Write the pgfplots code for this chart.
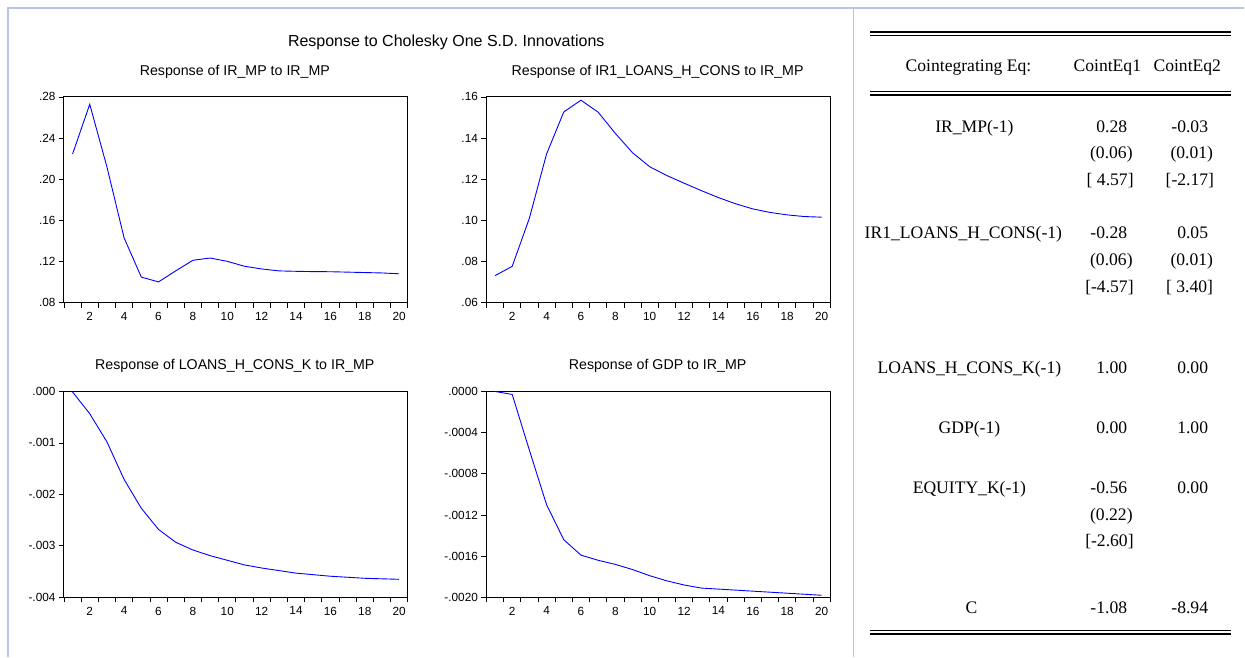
\documentclass[border=0pt]{standalone}
\usepackage{fontspec}
\setmainfont{Liberation Serif}
\newfontfamily\arial{Liberation Sans}
\usepackage{pgfplots}
\pgfplotsset{compat=1.18}

\definecolor{framecol}{RGB}{180,199,231}
\definecolor{irfblue}{RGB}{0,0,255}

\pgfplotsset{
  irf/.style={
    scale only axis,
    width=344pt, height=206pt,
    xmin=0.5, xmax=20.5,
    axis line style={black, line width=1pt},
    xtick={0.5,1.5,...,20.5},
    xticklabels={},
    extra x ticks={2,4,...,20},
    extra x tick labels={2,4,6,8,10,12,14,16,18,20},
    extra x tick style={major tick length=0pt, tick style={draw=none},
      xticklabel style={yshift=-6pt}},
    tick pos=left,
    tick align=outside,
    major tick length=5pt,
    tick style={black, line width=0.8pt},
    scaled y ticks=false,
    no markers,
    tick label style={font=\arial\fontsize{11.8}{12}\selectfont, text=black},
    every axis plot/.append style={irfblue, line width=0.9pt},
  }
}

\newcommand{\tfont}{\fontsize{17.6}{19}\selectfont}

\begin{document}
\begin{tikzpicture}
% page and frame
\fill[white] (0pt,0pt) rectangle (1245pt,657pt);
\draw[framecol, line width=1.5pt] (8pt,0pt) -- (8pt,649pt) -- (1245pt,649pt);
\draw[framecol, line width=1.5pt] (854pt,0pt) -- (854pt,649pt);

% titles
\node[font=\arial\fontsize{16}{18}\selectfont, anchor=base] at (446.5pt,610.3pt) {Response to Cholesky One S.D. Innovations};
\node[font=\arial\fontsize{14.2}{16}\selectfont, anchor=base] at (235pt,581pt) {Response of IR\_MP to IR\_MP};
\node[font=\arial\fontsize{14.2}{16}\selectfont, anchor=base] at (658pt,581pt) {Response of IR1\_LOANS\_H\_CONS to IR\_MP};
\node[font=\arial\fontsize{14.2}{16}\selectfont, anchor=base] at (235pt,287.7pt) {Response of LOANS\_H\_CONS\_K to IR\_MP};
\node[font=\arial\fontsize{14.2}{16}\selectfont, anchor=base] at (658pt,287.7pt) {Response of GDP to IR\_MP};

% IR_MP to IR_MP
\begin{axis}[irf, at={(64pt,354pt)}, anchor=south west,
  ymin=0.08, ymax=0.28,
  ytick={0.08,0.12,0.16,0.20,0.24,0.28},
  yticklabels={.08,.12,.16,.20,.24,.28}]
\addplot coordinates {
 (1,0.2245) (2,0.2729) (3,0.212) (4,0.143) (5,0.105) (6,0.1003) (7,0.111)
 (8,0.1213) (9,0.1235) (10,0.1203) (11,0.1155) (12,0.1129) (13,0.111)
 (14,0.1106) (15,0.1103) (16,0.1102) (17,0.1098) (18,0.1094) (19,0.1090) (20,0.1082)
};
\end{axis}

% IR1_LOANS_H_CONS to IR_MP
\begin{axis}[irf, at={(486.7pt,354pt)}, anchor=south west,
  ymin=0.06, ymax=0.16,
  ytick={0.06,0.08,0.10,0.12,0.14,0.16},
  yticklabels={.06,.08,.10,.12,.14,.16}]
\addplot coordinates {
 (1,0.0732) (2,0.0777) (3,0.1011) (4,0.1323) (5,0.1527) (6,0.1584) (7,0.1526)
 (8,0.1423) (9,0.1329) (10,0.1261) (11,0.1218) (12,0.1181) (13,0.1145)
 (14,0.1111) (15,0.1081) (16,0.1056) (17,0.1039) (18,0.1027) (19,0.1019) (20,0.1016)
};
\end{axis}

% LOANS_H_CONS_K to IR_MP
\begin{axis}[irf, at={(64pt,59.3pt)}, anchor=south west,
  ymin=-0.004, ymax=0,
  ytick={-0.004,-0.003,-0.002,-0.001,0},
  yticklabels={-.004,-.003,-.002,-.001,.000}]
\addplot coordinates {
 (1,-0.00001) (2,-0.000432) (3,-0.00098) (4,-0.00171) (5,-0.00227) (6,-0.00268)
 (7,-0.00293) (8,-0.00308) (9,-0.00319) (10,-0.00328) (11,-0.00337) (12,-0.00343)
 (13,-0.00348) (14,-0.00353) (15,-0.00356) (16,-0.00359) (17,-0.00361)
 (18,-0.00363) (19,-0.00364) (20,-0.00365)
};
\end{axis}

% GDP to IR_MP
\begin{axis}[irf, at={(486.7pt,59.3pt)}, anchor=south west,
  ymin=-0.002, ymax=0,
  ytick={-0.002,-0.0016,-0.0012,-0.0008,-0.0004,0},
  yticklabels={-.0020,-.0016,-.0012,-.0008,-.0004,.0000}]
\addplot coordinates {
 (1,0) (2,-0.000029) (3,-0.00057) (4,-0.0011) (5,-0.00144) (6,-0.00159)
 (7,-0.00164) (8,-0.00168) (9,-0.00173) (10,-0.00179) (11,-0.00184) (12,-0.00188)
 (13,-0.00191) (14,-0.00192) (15,-0.00193) (16,-0.00194) (17,-0.00195)
 (18,-0.00196) (19,-0.00197) (20,-0.00198)
};
\end{axis}

% cointegrating table
\foreach \yy in {625,621.5,565.5,562,26,22.7}
  \draw[black, line width=1.7pt] (871pt,\yy pt) -- (1232pt,\yy pt);
\begin{scope}[every node/.style={font=\tfont, inner sep=0pt}]
\node[anchor=base] at (969pt,585pt) {Cointegrating Eq:};
\node[anchor=base] at (1108pt,585pt) {CointEq1};
\node[anchor=base] at (1188pt,585pt) {CointEq2};

\node[anchor=base] at (975pt,524.8pt) {IR\_MP(-1)};
\node[anchor=base east] at (1128pt,524.8pt) {0.28};
\node[anchor=base east] at (1209pt,524.8pt) {-0.03};
\node[anchor=base east] at (1133.5pt,498.2pt) {(0.06)};
\node[anchor=base east] at (1214pt,498.2pt) {(0.01)};
\node[anchor=base east] at (1134.5pt,471.5pt) {[ 4.57]};
\node[anchor=base east] at (1215pt,471.5pt) {[-2.17]};

\node[anchor=base] at (964pt,418.5pt) {IR1\_LOANS\_H\_CONS(-1)};
\node[anchor=base east] at (1128pt,418.5pt) {-0.28};
\node[anchor=base east] at (1209pt,418.5pt) {0.05};
\node[anchor=base east] at (1133.5pt,391.5pt) {(0.06)};
\node[anchor=base east] at (1214pt,391.5pt) {(0.01)};
\node[anchor=base east] at (1134.5pt,364.8pt) {[-4.57]};
\node[anchor=base east] at (1214pt,364.8pt) {[ 3.40]};

\node[anchor=base] at (970pt,283.2pt) {LOANS\_H\_CONS\_K(-1)};
\node[anchor=base east] at (1128pt,283.2pt) {1.00};
\node[anchor=base east] at (1209pt,283.2pt) {0.00};

\node[anchor=base] at (970pt,223.2pt) {GDP(-1)};
\node[anchor=base east] at (1128pt,223.2pt) {0.00};
\node[anchor=base east] at (1209pt,223.2pt) {1.00};

\node[anchor=base] at (970pt,163.2pt) {EQUITY\_K(-1)};
\node[anchor=base east] at (1128pt,163.2pt) {-0.56};
\node[anchor=base east] at (1209pt,163.2pt) {0.00};
\node[anchor=base east] at (1133.5pt,136.5pt) {(0.22)};
\node[anchor=base east] at (1134.5pt,109.8pt) {[-2.60]};

\node[anchor=base] at (972pt,43.2pt) {C};
\node[anchor=base east] at (1128pt,43.2pt) {-1.08};
\node[anchor=base east] at (1209pt,43.2pt) {-8.94};
\end{scope}
\end{tikzpicture}
\end{document}
